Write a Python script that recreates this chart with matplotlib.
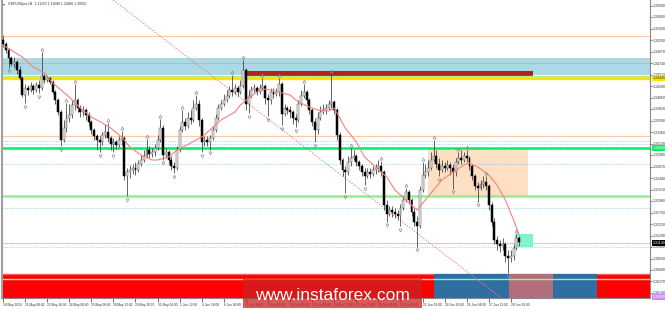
import matplotlib
matplotlib.use('Agg')
import matplotlib.pyplot as plt
from matplotlib.patches import Rectangle
import matplotlib.transforms as mtransforms

# ---------------- data (GBPUSD H4) ----------------
opens = [1.3520, 1.3512, 1.3500, 1.3484, 1.3472, 1.3476, 1.3460, 1.3444, 1.3410, 1.3424,
         1.3420, 1.3428, 1.3420, 1.3430, 1.3424, 1.3448, 1.3440, 1.3444, 1.3436, 1.3416,
         1.3400, 1.3376, 1.3320, 1.3344, 1.3364, 1.3370, 1.3390, 1.3400, 1.3384, 1.3376,
         1.3380, 1.3370, 1.3356, 1.3340, 1.3328, 1.3320, 1.3316, 1.3330, 1.3336, 1.3324,
         1.3312, 1.3316, 1.3310, 1.3320, 1.3324, 1.3248, 1.3256, 1.3260, 1.3264, 1.3260,
         1.3272, 1.3280, 1.3288, 1.3300, 1.3292, 1.3296, 1.3304, 1.3320, 1.3344, 1.3290,
         1.3296, 1.3280, 1.3268, 1.3264, 1.3300, 1.3340, 1.3356, 1.3348, 1.3364, 1.3360,
         1.3384, 1.3392, 1.3360, 1.3316, 1.3320, 1.3316, 1.3324, 1.3340, 1.3364, 1.3384,
         1.3392, 1.3400, 1.3408, 1.3420, 1.3416, 1.3424, 1.3416, 1.3428, 1.3460, 1.3392,
         1.3408, 1.3420, 1.3424, 1.3416, 1.3424, 1.3428, 1.3404, 1.3400, 1.3416, 1.3412,
         1.3416, 1.3432, 1.3372, 1.3384, 1.3380, 1.3376, 1.3364, 1.3360, 1.3392, 1.3408,
         1.3416, 1.3400, 1.3380, 1.3356, 1.3340, 1.3364, 1.3376, 1.3380, 1.3384, 1.3392,
         1.3396, 1.3380, 1.3330, 1.3280, 1.3260, 1.3256, 1.3276, 1.3284, 1.3288, 1.3276,
         1.3268, 1.3256, 1.3248, 1.3256, 1.3252, 1.3260, 1.3264, 1.3268, 1.3256, 1.3190,
         1.3172, 1.3180, 1.3176, 1.3172, 1.3168, 1.3184, 1.3200, 1.3216, 1.3200, 1.3176,
         1.3156, 1.3148, 1.3220, 1.3250, 1.3256, 1.3264, 1.3280, 1.3288, 1.3272, 1.3260,
         1.3268, 1.3264, 1.3270, 1.3264, 1.3256, 1.3276, 1.3284, 1.3280, 1.3288, 1.3284,
         1.3268, 1.3248, 1.3228, 1.3224, 1.3232, 1.3236, 1.3228, 1.3190, 1.3156, 1.3120,
         1.3112, 1.3108, 1.3112, 1.3088, 1.3084, 1.3088, 1.3104, 1.3124]
highs = [1.3530, 1.3516, 1.3504, 1.3488, 1.3486, 1.3480, 1.3468, 1.3448, 1.3432, 1.3430,
         1.3436, 1.3432, 1.3436, 1.3440, 1.3496, 1.3452, 1.3450, 1.3446, 1.3440, 1.3420,
         1.3404, 1.3380, 1.3360, 1.3394, 1.3392, 1.3400, 1.3432, 1.3404, 1.3390, 1.3388,
         1.3384, 1.3376, 1.3360, 1.3344, 1.3332, 1.3328, 1.3336, 1.3352, 1.3354, 1.3328,
         1.3324, 1.3320, 1.3328, 1.3338, 1.3328, 1.3264, 1.3270, 1.3272, 1.3276, 1.3280,
         1.3290, 1.3300, 1.3322, 1.3308, 1.3304, 1.3312, 1.3330, 1.3362, 1.3350, 1.3304,
         1.3300, 1.3288, 1.3276, 1.3308, 1.3348, 1.3380, 1.3364, 1.3376, 1.3380, 1.3400,
         1.3410, 1.3400, 1.3364, 1.3328, 1.3328, 1.3330, 1.3348, 1.3372, 1.3392, 1.3400,
         1.3412, 1.3420, 1.3428, 1.3450, 1.3432, 1.3428, 1.3440, 1.3480, 1.3464, 1.3420,
         1.3428, 1.3432, 1.3428, 1.3432, 1.3444, 1.3432, 1.3412, 1.3424, 1.3424, 1.3424,
         1.3444, 1.3436, 1.3392, 1.3388, 1.3388, 1.3380, 1.3372, 1.3400, 1.3420, 1.3432,
         1.3420, 1.3404, 1.3384, 1.3364, 1.3376, 1.3388, 1.3392, 1.3392, 1.3400, 1.3452,
         1.3400, 1.3384, 1.3336, 1.3284, 1.3268, 1.3288, 1.3304, 1.3300, 1.3292, 1.3280,
         1.3272, 1.3264, 1.3264, 1.3264, 1.3268, 1.3272, 1.3280, 1.3278, 1.3260, 1.3200,
         1.3188, 1.3188, 1.3184, 1.3180, 1.3192, 1.3208, 1.3224, 1.3220, 1.3204, 1.3184,
         1.3168, 1.3228, 1.3276, 1.3272, 1.3280, 1.3296, 1.3320, 1.3300, 1.3284, 1.3280,
         1.3276, 1.3280, 1.3276, 1.3272, 1.3284, 1.3296, 1.3300, 1.3296, 1.3300, 1.3288,
         1.3272, 1.3252, 1.3236, 1.3240, 1.3248, 1.3248, 1.3232, 1.3196, 1.3164, 1.3128,
         1.3120, 1.3124, 1.3116, 1.3100, 1.3100, 1.3112, 1.3132, 1.3128]
lows = [1.3506, 1.3494, 1.3464, 1.3468, 1.3464, 1.3452, 1.3440, 1.3406, 1.3394, 1.3410,
        1.3416, 1.3412, 1.3416, 1.3414, 1.3420, 1.3434, 1.3436, 1.3432, 1.3412, 1.3392,
        1.3370, 1.3308, 1.3316, 1.3336, 1.3356, 1.3364, 1.3380, 1.3376, 1.3366, 1.3368,
        1.3360, 1.3348, 1.3332, 1.3320, 1.3300, 1.3296, 1.3310, 1.3324, 1.3316, 1.3300,
        1.3296, 1.3302, 1.3306, 1.3310, 1.3240, 1.3208, 1.3244, 1.3252, 1.3250, 1.3256,
        1.3268, 1.3276, 1.3284, 1.3284, 1.3286, 1.3288, 1.3300, 1.3316, 1.3280, 1.3284,
        1.3272, 1.3260, 1.3254, 1.3260, 1.3296, 1.3336, 1.3340, 1.3344, 1.3352, 1.3356,
        1.3380, 1.3348, 1.3296, 1.3308, 1.3308, 1.3300, 1.3320, 1.3336, 1.3360, 1.3380,
        1.3388, 1.3396, 1.3404, 1.3408, 1.3412, 1.3408, 1.3412, 1.3424, 1.3380, 1.3374,
        1.3404, 1.3416, 1.3410, 1.3412, 1.3420, 1.3392, 1.3368, 1.3392, 1.3404, 1.3408,
        1.3408, 1.3350, 1.3368, 1.3372, 1.3364, 1.3352, 1.3346, 1.3356, 1.3388, 1.3404,
        1.3392, 1.3372, 1.3348, 1.3316, 1.3332, 1.3360, 1.3372, 1.3372, 1.3380, 1.3384,
        1.3372, 1.3320, 1.3272, 1.3248, 1.3214, 1.3250, 1.3268, 1.3280, 1.3268, 1.3260,
        1.3248, 1.3230, 1.3244, 1.3244, 1.3248, 1.3252, 1.3256, 1.3248, 1.3180, 1.3156,
        1.3168, 1.3166, 1.3164, 1.3160, 1.3148, 1.3180, 1.3196, 1.3192, 1.3168, 1.3148,
        1.3106, 1.3144, 1.3216, 1.3244, 1.3248, 1.3260, 1.3276, 1.3264, 1.3248, 1.3256,
        1.3256, 1.3260, 1.3250, 1.3222, 1.3248, 1.3272, 1.3272, 1.3276, 1.3276, 1.3260,
        1.3240, 1.3220, 1.3196, 1.3220, 1.3224, 1.3220, 1.3180, 1.3148, 1.3112, 1.3100,
        1.3096, 1.3100, 1.3076, 1.3054, 1.3076, 1.3080, 1.3100, 1.3108]
closes = [1.3512, 1.3500, 1.3484, 1.3472, 1.3476, 1.3460, 1.3444, 1.3410, 1.3424, 1.3420,
          1.3428, 1.3420, 1.3430, 1.3424, 1.3448, 1.3440, 1.3444, 1.3436, 1.3416, 1.3400,
          1.3376, 1.3320, 1.3344, 1.3364, 1.3370, 1.3390, 1.3400, 1.3384, 1.3376, 1.3380,
          1.3370, 1.3356, 1.3340, 1.3328, 1.3320, 1.3316, 1.3330, 1.3336, 1.3324, 1.3312,
          1.3316, 1.3310, 1.3320, 1.3324, 1.3248, 1.3256, 1.3260, 1.3264, 1.3260, 1.3272,
          1.3280, 1.3288, 1.3300, 1.3292, 1.3296, 1.3304, 1.3320, 1.3344, 1.3290, 1.3296,
          1.3280, 1.3268, 1.3264, 1.3300, 1.3340, 1.3356, 1.3348, 1.3364, 1.3360, 1.3384,
          1.3392, 1.3360, 1.3316, 1.3320, 1.3316, 1.3324, 1.3340, 1.3364, 1.3384, 1.3392,
          1.3400, 1.3408, 1.3420, 1.3416, 1.3424, 1.3416, 1.3428, 1.3460, 1.3392, 1.3408,
          1.3420, 1.3424, 1.3416, 1.3424, 1.3428, 1.3404, 1.3400, 1.3416, 1.3412, 1.3416,
          1.3432, 1.3372, 1.3384, 1.3380, 1.3376, 1.3364, 1.3360, 1.3392, 1.3408, 1.3416,
          1.3400, 1.3380, 1.3356, 1.3340, 1.3364, 1.3376, 1.3380, 1.3384, 1.3392, 1.3396,
          1.3380, 1.3330, 1.3280, 1.3260, 1.3256, 1.3276, 1.3284, 1.3288, 1.3276, 1.3268,
          1.3256, 1.3248, 1.3256, 1.3252, 1.3260, 1.3264, 1.3268, 1.3256, 1.3190, 1.3172,
          1.3180, 1.3176, 1.3172, 1.3168, 1.3184, 1.3200, 1.3216, 1.3200, 1.3176, 1.3156,
          1.3148, 1.3220, 1.3250, 1.3256, 1.3264, 1.3280, 1.3288, 1.3272, 1.3260, 1.3268,
          1.3264, 1.3270, 1.3264, 1.3256, 1.3276, 1.3284, 1.3280, 1.3288, 1.3284, 1.3268,
          1.3248, 1.3228, 1.3224, 1.3232, 1.3236, 1.3228, 1.3190, 1.3156, 1.3120, 1.3112,
          1.3108, 1.3112, 1.3088, 1.3084, 1.3088, 1.3104, 1.3124, 1.3116]

# moving average read at points (bar index, price)
ma_bars = [0, 7, 11, 15, 18, 24, 28, 32, 36, 39, 43, 46, 50, 54, 56, 60, 63, 68, 72, 75,
           79, 84, 86, 89, 92, 95, 100, 104, 107, 111, 114, 118, 120, 121, 124, 128, 131,
           135, 139, 142, 146, 150, 153, 156, 159, 163, 167, 169, 172, 176, 179, 182, 185, 187]
ma_vals = [1.3510, 1.3486, 1.3466, 1.3454, 1.3434, 1.3406, 1.3384, 1.3366, 1.3354, 1.3344,
           1.3326, 1.3306, 1.3290, 1.3280, 1.3280, 1.3286, 1.3300, 1.3314, 1.3326, 1.3340,
           1.3360, 1.3376, 1.3390, 1.3404, 1.3416, 1.3422, 1.3416, 1.3410, 1.3396, 1.3386,
           1.3380, 1.3378, 1.3384, 1.3374, 1.3344, 1.3316, 1.3286, 1.3266, 1.3246, 1.3220,
           1.3200, 1.3180, 1.3200, 1.3220, 1.3240, 1.3256, 1.3270, 1.3274, 1.3266, 1.3250,
           1.3230, 1.3200, 1.3160, 1.3130]

up_fractals = [14, 23, 26, 38, 43, 52, 57, 65, 70, 83, 87, 94, 100, 109, 119, 126, 137,
               146, 152, 156, 165, 168, 175, 186]
down_fractals = [2, 8, 13, 21, 35, 40, 45, 58, 62, 72, 75, 89, 96, 101, 106, 113, 124,
                 131, 139, 144, 150, 158, 163, 172, 183]

x_labels = ["18 May 2018", "21 May 08:00", "22 May 16:00", "24 May 00:00", "25 May 08:00",
            "28 May 12:00", "29 May 20:00", "31 May 04:00", "1 Jun 12:00", "4 Jun 16:00",
            "6 Jun 00:00", "7 Jun 08:00", "8 Jun 16:00", "11 Jun 20:00", "13 Jun 04:00",
            "14 Jun 12:00", "15 Jun 20:00", "19 Jun 00:00", "20 Jun 08:00", "21 Jun 16:00",
            "24 Jun 20:00", "26 Jun 04:00", "27 Jun 12:00", "28 Jun 20:00"]
x_label_bars = [0, 8, 16, 24, 32, 40, 48, 56, 64, 72, 80, 88, 96, 104, 112, 120, 128,
                136, 144, 152, 160, 168, 176, 184]

y_ticks = [1.35890, 1.35660, 1.35430, 1.35200, 1.34970, 1.34740, 1.34510, 1.34280,
           1.34050, 1.33820, 1.33590, 1.33360, 1.33130, 1.32900, 1.32670, 1.32440,
           1.32210, 1.31980, 1.31750, 1.31520, 1.31290, 1.31060, 1.30830, 1.30600,
           1.30370, 1.30140]

# levels / zones
orange_levels = [1.3528, 1.3328]
blue_zone = (1.3450, 1.3484)
blue_zone_line = 1.3474
lightgreen_top = 1.3448
yellow_level = 1.3444
green_level = 1.3304
lightgreen_level = 1.3208
dotted_levels = [1.3318, 1.3312, 1.3272, 1.3184, 1.3106]
price_line = 1.3114
red_zone = (1.3004, 1.3052)
red_zone_green = 1.3042
darkred_box = (87.7, 192.0, 1.3448, 1.3458)
peach_box = (154.0, 190.2, 1.3208, 1.3302)
aqua_box = (185.5, 192.0, 1.3106, 1.3132)
blue_boxes = [(156.2, 183.3), (199.3, 215.2)]
mauve_box = (183.3, 199.3)
trend_line = ((39.9, 1.3600), (180.1, 1.3006))

FONT = ['Liberation Sans', 'DejaVu Sans']

# ---------------- figure ----------------
W, H = 665, 310
fig = plt.figure(figsize=(W / 100, H / 100), dpi=100)
fig.patch.set_facecolor('white')
ax = fig.add_axes([2 / W, 12 / H, 648 / W, 298 / H])
ax.set_facecolor('white')
ax.set_xlim(-0.36, 234.4)
ax.set_ylim(1.3004, 1.3600)

# zones
ax.axhspan(*blue_zone, color='#add8e6', zorder=1, lw=0)
ax.axhline(blue_zone_line, color='#c9b4b4', lw=0.8, zorder=1.2)
ax.axhspan(*red_zone, color='#ff0000', zorder=1, lw=0)
ax.axhline(red_zone[1], color='#ff5a5a', lw=1.0, zorder=1.1)
for x0, x1 in blue_boxes:
    ax.add_patch(Rectangle((x0, red_zone[0]), x1 - x0, red_zone[1] - red_zone[0],
                           facecolor='#2f6ea0', lw=0, zorder=1.3))
ax.add_patch(Rectangle((mauve_box[0], red_zone[0]), mauve_box[1] - mauve_box[0],
                       red_zone[1] - red_zone[0], facecolor='#b06f7a', lw=0, zorder=1.3))
ax.axhline(red_zone_green, color='#9af09a', lw=1.0, zorder=1.5)

ax.add_patch(Rectangle((peach_box[0], peach_box[2]), peach_box[1] - peach_box[0],
                       peach_box[3] - peach_box[2], facecolor='#fde0c4', lw=0, zorder=1))
ax.add_patch(Rectangle((darkred_box[0], darkred_box[2]), darkred_box[1] - darkred_box[0],
                       darkred_box[3] - darkred_box[2], facecolor='#b0241c', lw=0, zorder=1.4))
ax.add_patch(Rectangle((aqua_box[0], aqua_box[2]), aqua_box[1] - aqua_box[0],
                       aqua_box[3] - aqua_box[2], facecolor='#7ff5cf', lw=0, zorder=1))

# lines
for lv in orange_levels:
    ax.axhline(lv, color='#fcc9a2', lw=0.9, zorder=1.2)
for lv in dotted_levels:
    ax.axhline(lv, color='#8ecbf5', lw=0.6, ls=(0, (1.2, 1.6)), zorder=1.2)
ax.axhline(lightgreen_top, color='#a8f0a8', lw=0.9, zorder=1.5)
ax.axhline(yellow_level, color='#ffe400', lw=2.4, zorder=1.6)
ax.axhline(green_level, color='#00ee6a', lw=1.8, zorder=1.6)
ax.axhline(lightgreen_level, color='#96ec96', lw=1.8, zorder=1.6)
ax.axhline(price_line, color='#cfcfcf', lw=0.8, zorder=1.2)
(tx0, ty0), (tx1, ty1) = trend_line
ax.plot([tx0, tx1], [ty0, ty1], color='#f08080', lw=0.7, ls=(0, (1.5, 1.5)), zorder=1.7)

# candles
n = len(closes)
idx = list(range(n))
ax.vlines(idx, lows, highs, color='#3a3a3a', lw=0.55, zorder=3)
bull = [i for i in idx if closes[i] >= opens[i]]
bear = [i for i in idx if closes[i] < opens[i]]
ax.bar(bull, [max(closes[i] - opens[i], 0.00006) for i in bull],
       bottom=[opens[i] for i in bull], width=0.7, color='#ececec',
       edgecolor='#505050', lw=0.35, zorder=3.5)
ax.bar(bear, [max(opens[i] - closes[i], 0.00006) for i in bear],
       bottom=[closes[i] for i in bear], width=0.7, color='#000000',
       edgecolor='#000000', lw=0.35, zorder=3.5)

# moving average
ax.plot(ma_bars, ma_vals, color='#f28282', lw=0.8, zorder=4)

# fractals
ax.plot(up_fractals, [highs[i] + 0.0007 for i in up_fractals], ls='none', marker='^',
        ms=2.2, mfc='none', mec='#8a8a8a', mew=0.45, zorder=4)
ax.plot(down_fractals, [lows[i] - 0.0007 for i in down_fractals], ls='none', marker='v',
        ms=2.2, mfc='none', mec='#8a8a8a', mew=0.45, zorder=4)

# axes styling
ax.spines['top'].set_visible(False)
ax.spines['left'].set_color('#a0a0a0')
ax.spines['left'].set_linewidth(1.5)
ax.spines['right'].set_color('#8a8a8a')
ax.spines['bottom'].set_color('#8a8a8a')
ax.spines['right'].set_linewidth(0.8)
ax.spines['bottom'].set_linewidth(0.8)
ax.yaxis.tick_right()
ax.set_yticks(y_ticks)
ax.set_yticklabels(['%.5f' % v for v in y_ticks], family=FONT)
ax.tick_params(axis='y', labelsize=2.5, length=1.5, width=0.5, pad=0.6, colors='#333333')
ax.set_xticks(x_label_bars)
ax.set_xticklabels(x_labels, ha='left', family=FONT)
ax.tick_params(axis='x', labelsize=2.3, length=3, width=0.5, pad=0.3, colors='#333333')
for lab in ax.get_xticklabels():
    lab.set_x(lab.get_position()[0])

# right-side price tags
trans = mtransforms.blended_transform_factory(ax.transAxes, ax.transData)
tags = [(yellow_level, '#ffe400', '#333333'), (green_level, '#00ee6a', '#ffffff'),
        (price_line, '#000000', '#ffffff'), (1.3006, '#c98cf0', '#ffffff')]
for val, bg, fg in tags:
    ax.text(1.0035, val, '%.5f' % val, transform=trans, fontsize=2.5, color=fg,
            family=FONT, va='center', ha='left', clip_on=False,
            bbox=dict(boxstyle='square,pad=0.2', facecolor=bg, edgecolor='none'))

# header
fig.text(3 / W, 1 - 4 / H, u'\u25be', fontsize=3.0, color='#555555', va='center')
fig.text(8 / W, 1 - 4 / H, 'GBPUSDpro,H4  1.31223 1.31688 1.30880 1.30990',
         fontsize=2.4, color='#333333', va='center', family=FONT)

# watermark
fig.add_artist(Rectangle((243 / W, 2 / H), 179 / W, 29 / H, transform=fig.transFigure,
                         facecolor='#cc2222', alpha=0.75, lw=0, zorder=10))
fig.text(332 / W, 15 / H, 'www.instaforex.com', fontsize=12.5, color='white',
         family=FONT, ha='center', va='center', zorder=11)

fig.savefig('out.png', dpi=100, facecolor='white')
